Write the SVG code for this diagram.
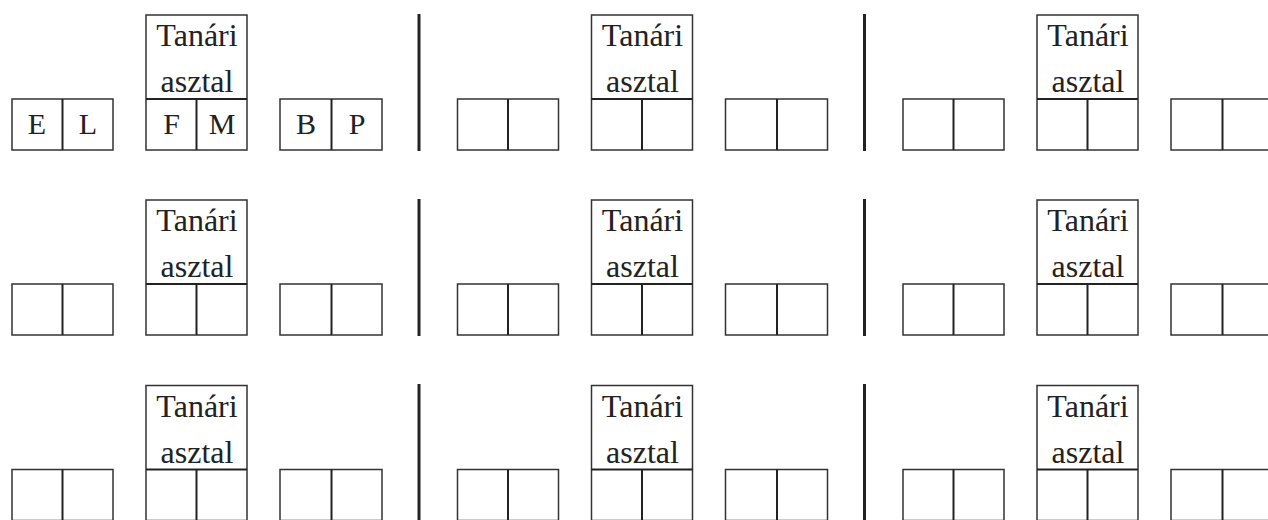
<svg xmlns="http://www.w3.org/2000/svg" width="1268" height="520" viewBox="0 0 1268 520" font-family="Liberation Serif, DejaVu Serif, serif">
<style>
.box{fill:#fff;stroke:#333;stroke-width:1.5}
.div{stroke:#222;stroke-width:2}
.sep{stroke:#222;stroke-width:3}
.t{font-size:32px;fill:#222;text-anchor:middle}
.c{font-size:30px;fill:#222;text-anchor:middle}
</style>
<rect width="1268" height="520" fill="#fff"/>
<g id="separators">
<line class="sep" x1="419" y1="14" x2="419" y2="151"/>
<line class="sep" x1="864.5" y1="14" x2="864.5" y2="151"/>
<line class="sep" x1="419" y1="199" x2="419" y2="336"/>
<line class="sep" x1="864.5" y1="199" x2="864.5" y2="336"/>
<line class="sep" x1="419" y1="384" x2="419" y2="522"/>
<line class="sep" x1="864.5" y1="384" x2="864.5" y2="522"/>
</g>

<!-- Row 1 -->
<g id="r1g1-left" transform="translate(0,0)">
<rect class="box" x="12" y="99" width="101" height="51"/><line class="div" x1="62.5" y1="99" x2="62.5" y2="150"/>
<text class="c" x="37" y="134">E</text><text class="c" x="88" y="134">L</text>
</g>
<g id="r1g1-desk" transform="translate(0,0)">
<rect class="box" x="146" y="15" width="101" height="135"/><line class="div" x1="146" y1="99" x2="247" y2="99"/><line class="div" x1="196.5" y1="99" x2="196.5" y2="150"/>
<text class="t" x="197" y="46">Tanári</text><text class="t" x="197" y="92">asztal</text>
<text class="c" x="171.5" y="134">F</text><text class="c" x="222" y="134">M</text>
</g>
<g id="r1g1-right" transform="translate(0,0)">
<rect class="box" x="280" y="99" width="102" height="51"/><line class="div" x1="331.5" y1="99" x2="331.5" y2="150"/>
<text class="c" x="306" y="134">B</text><text class="c" x="357" y="134">P</text>
</g>
<g id="r1g2-left" transform="translate(445.5,0)"><rect class="box" x="12" y="99" width="101" height="51"/><line class="div" x1="62.5" y1="99" x2="62.5" y2="150"/></g>
<g id="r1g2-desk" transform="translate(445.5,0)"><rect class="box" x="146" y="15" width="101" height="135"/><line class="div" x1="146" y1="99" x2="247" y2="99"/><line class="div" x1="196.5" y1="99" x2="196.5" y2="150"/><text class="t" x="197" y="46">Tanári</text><text class="t" x="197" y="92">asztal</text></g>
<g id="r1g2-right" transform="translate(445.5,0)"><rect class="box" x="280" y="99" width="102" height="51"/><line class="div" x1="331.5" y1="99" x2="331.5" y2="150"/></g>
<g id="r1g3-left" transform="translate(891,0)"><rect class="box" x="12" y="99" width="101" height="51"/><line class="div" x1="62.5" y1="99" x2="62.5" y2="150"/></g>
<g id="r1g3-desk" transform="translate(891,0)"><rect class="box" x="146" y="15" width="101" height="135"/><line class="div" x1="146" y1="99" x2="247" y2="99"/><line class="div" x1="196.5" y1="99" x2="196.5" y2="150"/><text class="t" x="197" y="46">Tanári</text><text class="t" x="197" y="92">asztal</text></g>
<g id="r1g3-right" transform="translate(891,0)"><rect class="box" x="280" y="99" width="102" height="51"/><line class="div" x1="331.5" y1="99" x2="331.5" y2="150"/></g>

<!-- Row 2 -->
<g id="r2g1-left" transform="translate(0,185)"><rect class="box" x="12" y="99" width="101" height="51"/><line class="div" x1="62.5" y1="99" x2="62.5" y2="150"/></g>
<g id="r2g1-desk" transform="translate(0,185)"><rect class="box" x="146" y="15" width="101" height="135"/><line class="div" x1="146" y1="99" x2="247" y2="99"/><line class="div" x1="196.5" y1="99" x2="196.5" y2="150"/><text class="t" x="197" y="46">Tanári</text><text class="t" x="197" y="92">asztal</text></g>
<g id="r2g1-right" transform="translate(0,185)"><rect class="box" x="280" y="99" width="102" height="51"/><line class="div" x1="331.5" y1="99" x2="331.5" y2="150"/></g>
<g id="r2g2-left" transform="translate(445.5,185)"><rect class="box" x="12" y="99" width="101" height="51"/><line class="div" x1="62.5" y1="99" x2="62.5" y2="150"/></g>
<g id="r2g2-desk" transform="translate(445.5,185)"><rect class="box" x="146" y="15" width="101" height="135"/><line class="div" x1="146" y1="99" x2="247" y2="99"/><line class="div" x1="196.5" y1="99" x2="196.5" y2="150"/><text class="t" x="197" y="46">Tanári</text><text class="t" x="197" y="92">asztal</text></g>
<g id="r2g2-right" transform="translate(445.5,185)"><rect class="box" x="280" y="99" width="102" height="51"/><line class="div" x1="331.5" y1="99" x2="331.5" y2="150"/></g>
<g id="r2g3-left" transform="translate(891,185)"><rect class="box" x="12" y="99" width="101" height="51"/><line class="div" x1="62.5" y1="99" x2="62.5" y2="150"/></g>
<g id="r2g3-desk" transform="translate(891,185)"><rect class="box" x="146" y="15" width="101" height="135"/><line class="div" x1="146" y1="99" x2="247" y2="99"/><line class="div" x1="196.5" y1="99" x2="196.5" y2="150"/><text class="t" x="197" y="46">Tanári</text><text class="t" x="197" y="92">asztal</text></g>
<g id="r2g3-right" transform="translate(891,185)"><rect class="box" x="280" y="99" width="102" height="51"/><line class="div" x1="331.5" y1="99" x2="331.5" y2="150"/></g>

<!-- Row 3 -->
<g id="r3g1-left" transform="translate(0,370.5)"><rect class="box" x="12" y="99" width="101" height="51"/><line class="div" x1="62.5" y1="99" x2="62.5" y2="150"/></g>
<g id="r3g1-desk" transform="translate(0,370.5)"><rect class="box" x="146" y="15" width="101" height="135"/><line class="div" x1="146" y1="99" x2="247" y2="99"/><line class="div" x1="196.5" y1="99" x2="196.5" y2="150"/><text class="t" x="197" y="46">Tanári</text><text class="t" x="197" y="92">asztal</text></g>
<g id="r3g1-right" transform="translate(0,370.5)"><rect class="box" x="280" y="99" width="102" height="51"/><line class="div" x1="331.5" y1="99" x2="331.5" y2="150"/></g>
<g id="r3g2-left" transform="translate(445.5,370.5)"><rect class="box" x="12" y="99" width="101" height="51"/><line class="div" x1="62.5" y1="99" x2="62.5" y2="150"/></g>
<g id="r3g2-desk" transform="translate(445.5,370.5)"><rect class="box" x="146" y="15" width="101" height="135"/><line class="div" x1="146" y1="99" x2="247" y2="99"/><line class="div" x1="196.5" y1="99" x2="196.5" y2="150"/><text class="t" x="197" y="46">Tanári</text><text class="t" x="197" y="92">asztal</text></g>
<g id="r3g2-right" transform="translate(445.5,370.5)"><rect class="box" x="280" y="99" width="102" height="51"/><line class="div" x1="331.5" y1="99" x2="331.5" y2="150"/></g>
<g id="r3g3-left" transform="translate(891,370.5)"><rect class="box" x="12" y="99" width="101" height="51"/><line class="div" x1="62.5" y1="99" x2="62.5" y2="150"/></g>
<g id="r3g3-desk" transform="translate(891,370.5)"><rect class="box" x="146" y="15" width="101" height="135"/><line class="div" x1="146" y1="99" x2="247" y2="99"/><line class="div" x1="196.5" y1="99" x2="196.5" y2="150"/><text class="t" x="197" y="46">Tanári</text><text class="t" x="197" y="92">asztal</text></g>
<g id="r3g3-right" transform="translate(891,370.5)"><rect class="box" x="280" y="99" width="102" height="51"/><line class="div" x1="331.5" y1="99" x2="331.5" y2="150"/></g>
</svg>
